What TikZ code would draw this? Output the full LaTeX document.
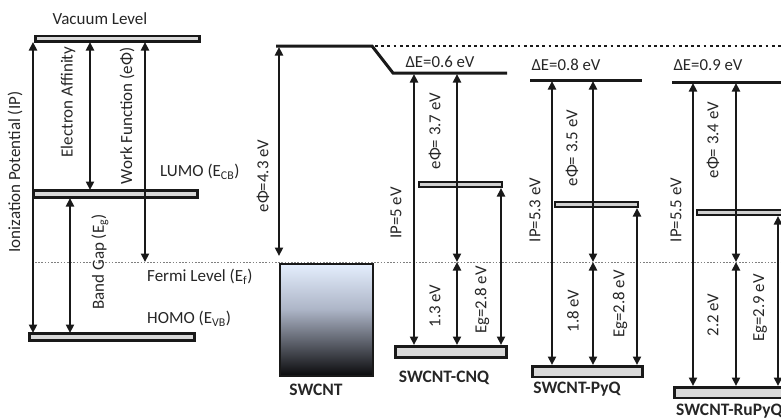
\documentclass[tikz,border=0pt]{standalone}
\usepackage{fontspec}
\setmainfont{Carlito}
\usetikzlibrary{arrows.meta}
\begin{document}
\begin{tikzpicture}[x=1pt,y=-1pt,
  lbl/.style={font=\fontsize{17}{20}\selectfont, inner sep=0pt, text=black!85},
  nlbl/.style={font=\fontsize{16.8}{19}\selectfont, inner sep=0pt, text=black!85},
  rot/.style={rotate=90},
  sw/.style={font=\fontsize{17.5}{20}\selectfont\bfseries, inner sep=0pt, text=black!85},
  bar/.style={draw=black!90, line width=2.4pt, fill=black!15},
  thinbar/.style={draw=black!90, line width=2pt, fill=black!18},
  lvl/.style={draw=black!90, line width=3pt},
  arr/.style={draw=black!90, line width=2.5pt, {Triangle[length=8.5pt,width=8pt]}-{Triangle[length=8.5pt,width=8pt]}},
  topdot/.style={draw=black!90, line width=2.8pt, dash pattern=on 2.8pt off 3.4pt},
  fermidot/.style={draw=black!50, line width=0.9pt, dash pattern=on 1.6pt off 1.6pt}]
\useasboundingbox (0,0) rectangle (781,418);

% ---------- Fermi level ----------
\draw[fermidot] (35,262) -- (781,262);

% ---------- left generic diagram ----------
\draw[bar] (35.5,36) rectangle (199.5,41.5);
\draw[bar] (33.5,190.5) rectangle (197.5,197.5);
\draw[bar] (29.5,333.5) rectangle (194.5,340.5);

\coordinate (ipT) at (33,42);   \coordinate (ipB) at (33,333);
\coordinate (eaT) at (90,42);   \coordinate (eaB) at (90,190);
\coordinate (wfT) at (145,42);  \coordinate (wfB) at (145,262);
\coordinate (bgT) at (70,198);  \coordinate (bgB) at (70,333);
\draw[arr] (ipT) -- (ipB);
\draw[arr] (eaT) -- (eaB);
\draw[arr] (wfT) -- (wfB);
\draw[arr] (bgT) -- (bgB);

\node[lbl] (vacl) at (100,19) {Vacuum Level};
\node[lbl,anchor=west] (lumol) at (160,172) {LUMO (E\textsubscript{CB})};
\node[lbl,anchor=west] (fermil) at (147,277) {Fermi Level (E\textsubscript{f})};
\node[lbl,anchor=west] (homol) at (147,319) {HOMO (E\textsubscript{VB})};
\node[lbl,rot] (ipl) at (15,172) {Ionization Potential (IP)};
\node[lbl,rot] (eal) at (68,102) {Electron Affinity};
\node[lbl,rot] (wfl) at (127,116) {Work Function (eΦ)};
\node[lbl,rot] (bgl) at (100,262) {Band Gap (E\textsubscript{g})};

% ---------- SWCNT ----------
\draw[topdot] (375,46) -- (781,46);
\draw[lvl] (276,46) -- (372,46) -- (393,73) -- (507,73);
\shade[top color={rgb,255:red,228;green,238;blue,253}, bottom color={rgb,255:red,172;green,180;blue,198}] (280,264) rectangle (373,310);
\shade[top color={rgb,255:red,172;green,180;blue,198}, middle color={rgb,255:red,84;green,88;blue,100}, bottom color={rgb,255:red,10;green,10;blue,12}] (280,309.5) rectangle (373,376);
\draw[draw=black!90, line width=2.4pt] (280,264) rectangle (373,376);
\coordinate (swT) at (279,47); \coordinate (swB) at (279,256);
\draw[arr] (swT) -- (swB);
\node[nlbl,rot] (swl) at (263,176) {eΦ=4.3 eV};
\node[sw] (swn) at (316,390) {SWCNT};

% ---------- SWCNT-CNQ ----------
\draw[thinbar] (419,181.5) rectangle (502,187);
\draw[bar] (395.5,346.5) rectangle (506.5,357.5);
\coordinate (c1T) at (414,74);  \coordinate (c1B) at (414,345);
\coordinate (c2T) at (457,74);  \coordinate (c2M) at (457,262); \coordinate (c2B) at (457,345);
\coordinate (c3T) at (501,188); \coordinate (c3B) at (501,345);
\draw[arr] (c1T) -- (c1B);
\draw[arr] (c2T) -- (c2M);
\draw[arr] (c2M) -- (c2B);
\draw[arr] (c3T) -- (c3B);
\node[nlbl] (cnqd) at (440,62) {ΔE=0.6 eV};
\node[nlbl,rot] (cnqip) at (396,213) {IP=5 eV};
\node[nlbl,rot] (cnqwf) at (435,131) {eΦ= 3.7 eV};
\node[nlbl,rot] (cnqh) at (435,306) {1.3 eV};
\node[nlbl,rot] (cnqg) at (482,300) {Eg=2.8 eV};
\node[sw] (cnqn) at (444,378) {SWCNT-CNQ};

% ---------- SWCNT-PyQ ----------
\draw[lvl] (530,80) -- (642,80);
\draw[thinbar] (555,201.5) rectangle (638,207);
\draw[bar] (532.5,366.5) rectangle (642.5,377);
\coordinate (p1T) at (552,81);  \coordinate (p1B) at (552,365);
\coordinate (p2T) at (593,81);  \coordinate (p2M) at (593,262); \coordinate (p2B) at (593,365);
\coordinate (p3T) at (637,208); \coordinate (p3B) at (637,365);
\draw[arr] (p1T) -- (p1B);
\draw[arr] (p2T) -- (p2M);
\draw[arr] (p2M) -- (p2B);
\draw[arr] (p3T) -- (p3B);
\node[nlbl] (pyqd) at (566,65) {ΔE=0.8 eV};
\node[nlbl,rot] (pyqip) at (535,210) {IP=5.3 eV};
\node[nlbl,rot] (pyqwf) at (572,148) {eΦ= 3.5 eV};
\node[nlbl,rot] (pyqh) at (573,311) {1.8 eV};
\node[nlbl,rot] (pyqg) at (620,304) {Eg=2.8 eV};
\node[sw] (pyqn) at (577,389) {SWCNT-PyQ};

% ---------- SWCNT-RuPyQ ----------
\draw[lvl] (672,82) -- (790,82);
\draw[thinbar] (697,209.5) rectangle (790,215);
\draw[bar] (674.5,387.5) rectangle (795,398);
\coordinate (r1T) at (693,83);  \coordinate (r1B) at (693,386);
\coordinate (r2T) at (736,83);  \coordinate (r2M) at (736,262); \coordinate (r2B) at (736,386);
\coordinate (r3T) at (778,216); \coordinate (r3B) at (778,386);
\draw[arr] (r1T) -- (r1B);
\draw[arr] (r2T) -- (r2M);
\draw[arr] (r2M) -- (r2B);
\draw[arr] (r3T) -- (r3B);
\node[nlbl] (rud) at (708,65) {ΔE=0.9 eV};
\node[nlbl,rot] (ruip) at (676,210) {IP=5.5 eV};
\node[nlbl,rot] (ruwf) at (713,140) {eΦ= 3.4 eV};
\node[nlbl,rot] (ruh) at (713,315) {2.2 eV};
\node[nlbl,rot] (rug) at (760,308) {Eg=2.9 eV};
\node[sw,anchor=west] (run) at (676,411) {SWCNT-RuPyQ};
\end{tikzpicture}
\end{document}
